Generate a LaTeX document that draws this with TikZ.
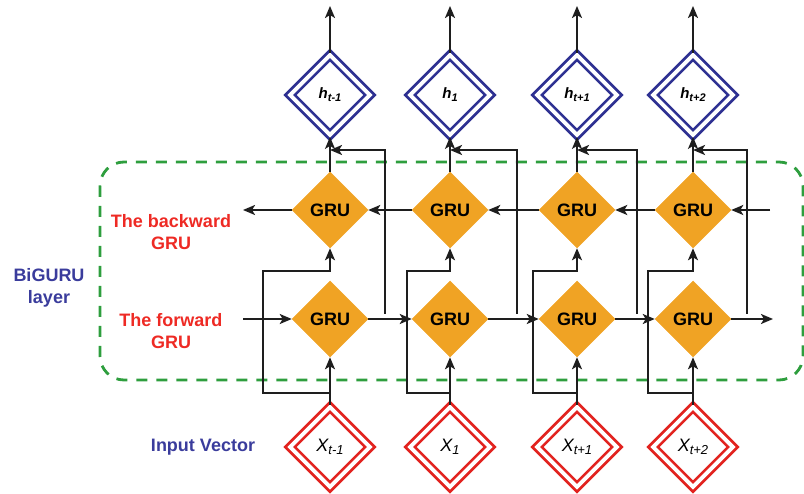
\documentclass[tikz,border=0pt]{standalone}
\usepackage{fontspec}
\setmainfont{Liberation Sans}
\usetikzlibrary{shapes.geometric,arrows.meta,calc}
\definecolor{gruorange}{HTML}{F0A324}
\definecolor{hblue}{HTML}{2E3192}
\definecolor{xred}{HTML}{E2231F}
\definecolor{txtblue}{HTML}{3A3C9C}
\definecolor{txtred}{HTML}{EE2A24}
\definecolor{boxgreen}{HTML}{2E9E3E}
\definecolor{linegray}{HTML}{1E1E1E}
% label with an italic base and a lowered subscript
\newcommand\diaglabel[4]{{\fontsize{#3}{#3}\selectfont\itshape #1}{\fontsize{#4}{#4}\selectfont\itshape\raisebox{-3pt}{#2}}}
\begin{document}
\begin{tikzpicture}[x=1pt,y=-1pt,
  gru/.style={diamond, fill=gruorange, draw=gruorange, line width=0.5pt,
    minimum width=76pt, minimum height=76pt, inner sep=0pt,
    font=\fontsize{18}{18}\selectfont\bfseries},
  dbl/.style={diamond, line width=2.8pt, double=white, double distance=3.8pt,
    minimum width=81pt, minimum height=81pt, inner sep=0pt},
  outbox/.style={dbl, draw=hblue},
  inbox/.style={dbl, draw=xred},
  conn/.style={line width=2.2pt, draw=linegray},
  arr/.style={conn, -{Stealth[length=12pt,width=10pt,inset=3pt]}},
  lab/.style={align=center, font=\fontsize{18}{21.5}\selectfont\bfseries},
  hlab/.style={font=\bfseries},
]
\useasboundingbox (0,0) rectangle (804,494);

% BiGRU layer frame
\draw[boxgreen, line width=2.8pt, dash pattern=on 11pt off 9pt, rounded corners=24pt]
  (100,162) rectangle (803,380);

% side labels
\node[lab, text=txtred] (lbk) at (171,232) {The backward\\GRU};
\node[lab, text=txtred] (lfw) at (171,331) {The forward\\GRU};
\node[lab, text=txtblue] (lbi) at (49,288) {BiGURU\\layer};
\node[lab, text=txtblue] (lin) at (203,447) {Input Vector};

% columns
\foreach \i/\cx/\lx/\rx in {1/330/263/385, 2/450/407/517, 3/577/533/637, 4/693/648/747}{
  \node[outbox] (h\i) at (\cx,95) {};
  \node[gru] (b\i) at (\cx,210) {GRU};
  \node[gru] (f\i) at (\cx,319) {GRU};
  \node[inbox] (x\i) at (\cx,447) {};
  \coordinate (t\i) at (\cx,6);
  \coordinate (xj\i) at (\cx,393);
  \coordinate (bl\i) at (\lx,271);
  \coordinate (ru\i) at (\rx,314);
  \coordinate (hj\i) at (\cx,150);
}
\node[hlab] at (h1) {\diaglabel{h}{t-1}{15}{11}};
\node[hlab] at (h2) {\diaglabel{h}{1}{15}{11}};
\node[hlab] at (h3) {\diaglabel{h}{t+1}{15}{11}};
\node[hlab] at (h4) {\diaglabel{h}{t+2}{15}{11}};
\node at (x1) {\diaglabel{X}{t-1}{18}{13}};
\node at (x2) {\diaglabel{X}{1}{18}{13}};
\node at (x3) {\diaglabel{X}{t+1}{18}{13}};
\node at (x4) {\diaglabel{X}{t+2}{18}{13}};

% chain ends
\coordinate (bL) at (243,210);
\coordinate (bR) at (770,210);
\coordinate (fL) at (243,319);
\coordinate (fR) at (773,319);

\foreach \i in {1,2,3,4}{
  \draw[arr] (h\i.north) -- (t\i);
  \draw[arr] (b\i.north) -- (h\i.south);
  \draw[arr] (x\i.north) -- (f\i.south);
  \draw[arr] (xj\i) -| (bl\i) -| (b\i.south);
  \draw[arr] (ru\i) |- (hj\i);
}

% backward chain
\draw[arr] (b1.west) -- (bL);
\draw[arr] (b2.west) -- (b1.east);
\draw[arr] (b3.west) -- (b2.east);
\draw[arr] (b4.west) -- (b3.east);
\draw[arr] (bR) -- (b4.east);

% forward chain
\draw[arr] (fL) -- (f1.west);
\draw[arr] (f1.east) -- (f2.west);
\draw[arr] (f2.east) -- (f3.west);
\draw[arr] (f3.east) -- (f4.west);
\draw[arr] (f4.east) -- (fR);
\end{tikzpicture}
\end{document}
